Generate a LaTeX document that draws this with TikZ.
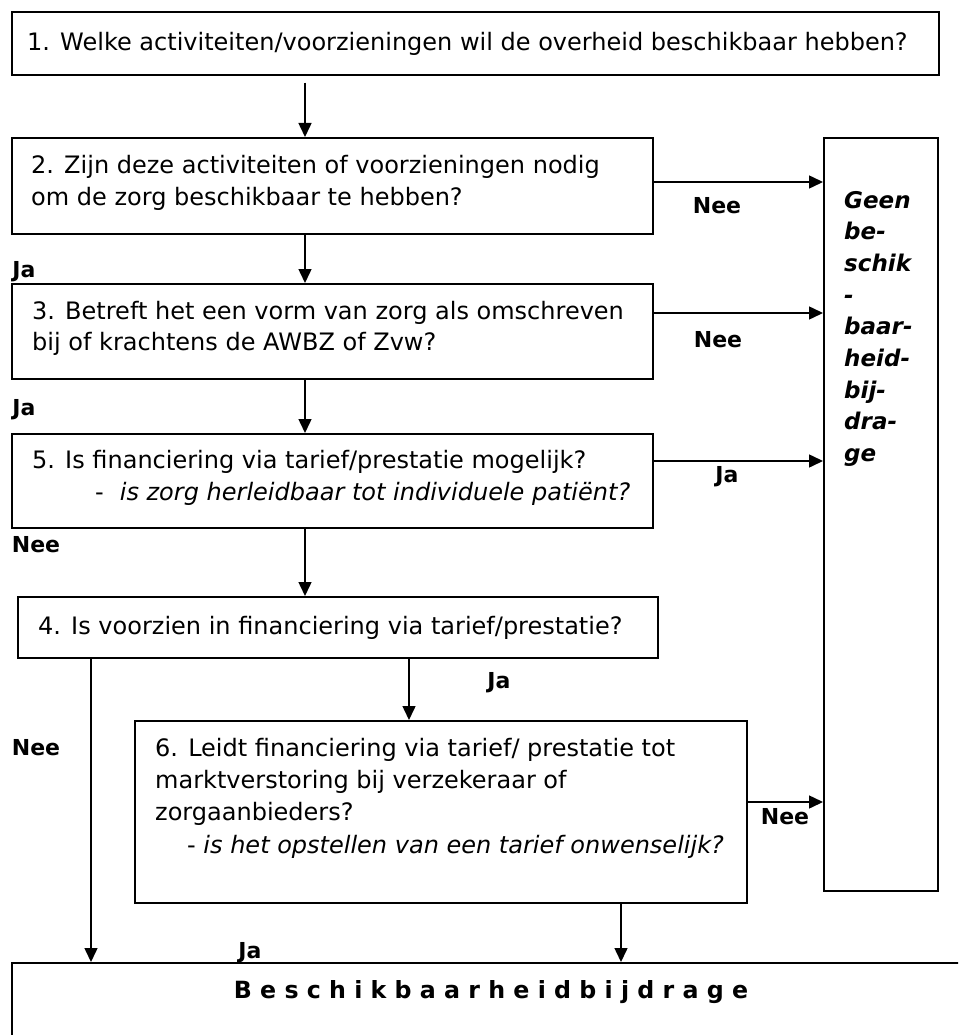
\documentclass[tikz,border=0pt]{standalone}
\usepackage{fontspec}
\setmainfont{DejaVu Sans}
\usetikzlibrary{arrows.meta}
\begin{document}
\begin{tikzpicture}[x=1pt,y=-1pt,
 box/.style={draw, line width=1.6pt, anchor=north west, inner sep=0pt},
 txt/.style={anchor=base west, inner sep=0pt, align=left, font=\fontsize{24}{32}\selectfont},
 lbl/.style={inner sep=0pt, font=\fontsize{22}{26}\selectfont\bfseries},
 arr/.style={line width=1.5pt, -{Triangle[length=14pt,width=13pt]}}]
\useasboundingbox (0,0) rectangle (958,1035);
\clip (0,0) rectangle (958,1035);
% boxes
\node[box, minimum width=927pt, minimum height=63pt] (b1) at (11,11) {};
\node[box, minimum width=641pt, minimum height=96pt] (b2) at (11,137) {};
\node[box, minimum width=114pt, minimum height=753pt] (gb) at (823,137) {};
\node[box, minimum width=641pt, minimum height=95pt] (b3) at (11,283) {};
\node[box, minimum width=641pt, minimum height=94pt] (b5) at (11,433) {};
\node[box, minimum width=640pt, minimum height=61pt] (b4) at (17,596) {};
\node[box, minimum width=612pt, minimum height=182pt] (b6) at (134,720) {};
\node[box, minimum width=964pt, minimum height=120pt] (bb) at (11,962) {};
% texts (anchor = baseline of last line)
\node[txt] (t1) at (27,51) {1. Welke activiteiten/voorzieningen wil de overheid beschikbaar hebben?};
\node[txt] (t2) at (31,205) {2. Zijn deze activiteiten of voorzieningen nodig\\om de zorg beschikbaar te hebben?};
\node[txt,font=\fontsize{24}{31}\selectfont] (t3) at (32,350) {3. Betreft het een vorm van zorg als omschreven\\bij of krachtens de AWBZ of Zvw?};
\node[txt] (t5) at (32,500) {5. Is financiering via tarief/prestatie mogelijk?\\\hspace*{63pt}-\hspace*{16pt}\textit{is zorg herleidbaar tot individuele patiënt?}};
\node[txt] (t4) at (38,634) {4. Is voorzien in financiering via tarief/prestatie?};
\node[txt,font=\fontsize{24}{32.3}\selectfont] (t6) at (155,853) {6. Leidt financiering via tarief/ prestatie tot\\marktverstoring bij verzekeraar of\\zorgaanbieders?\\\hspace*{32pt}- \textit{is het opstellen van een tarief onwenselijk?}};
\node[txt,font=\fontsize{23}{31.7}\selectfont\bfseries\itshape] (tg) at (844,461.6) {Geen\\be-\\schik\\-\\baar-\\heid-\\bij-\\dra-\\ge};
\node[inner sep=0pt, anchor=base, font=\fontsize{23.7}{28}\selectfont\bfseries] (tb) at (491,998) {B e s c h i k b a a r h e i d b i j d r a g e};
% labels
\node[lbl] (l1) at (717,206) {Nee};
\node[lbl] (l2) at (24,272) {Ja};
\node[lbl] (l3) at (718,340) {Nee};
\node[lbl] (l4) at (24,410) {Ja};
\node[lbl] (l5) at (727,477) {Ja};
\node[lbl] (l6) at (36,545) {Nee};
\node[lbl] (l7) at (499,683) {Ja};
\node[lbl] (l8) at (36,748) {Nee};
\node[lbl] (l9) at (785,817) {Nee};
\node[lbl] (l10) at (250,953) {Ja};
% helper coordinates
\coordinate (x305) at (305,0);
\coordinate (x91) at (91,0);
\coordinate (x409) at (409,0);
\coordinate (x621) at (621,0);
\coordinate (y182) at (0,182);
\coordinate (y313) at (0,313);
\coordinate (y461) at (0,461);
\coordinate (y802) at (0,802);
% connectors
\draw[arr, shorten <=7pt] (b1.south -| x305) -- (b2.north -| x305);
\draw[arr] (b2.south -| x305) -- (b3.north -| x305);
\draw[arr] (b3.south -| x305) -- (b5.north -| x305);
\draw[arr] (b5.south -| x305) -- (b4.north -| x305);
\draw[arr] (b4.south -| x91) -- (bb.north -| x91);
\draw[arr] (b4.south -| x409) -- (b6.north -| x409);
\draw[arr] (b6.south -| x621) -- (bb.north -| x621);
\draw[arr] (b2.east |- y182) -- (gb.west |- y182);
\draw[arr] (b3.east |- y313) -- (gb.west |- y313);
\draw[arr] (b5.east |- y461) -- (gb.west |- y461);
\draw[arr] (b6.east |- y802) -- (gb.west |- y802);
\end{tikzpicture}
\end{document}
